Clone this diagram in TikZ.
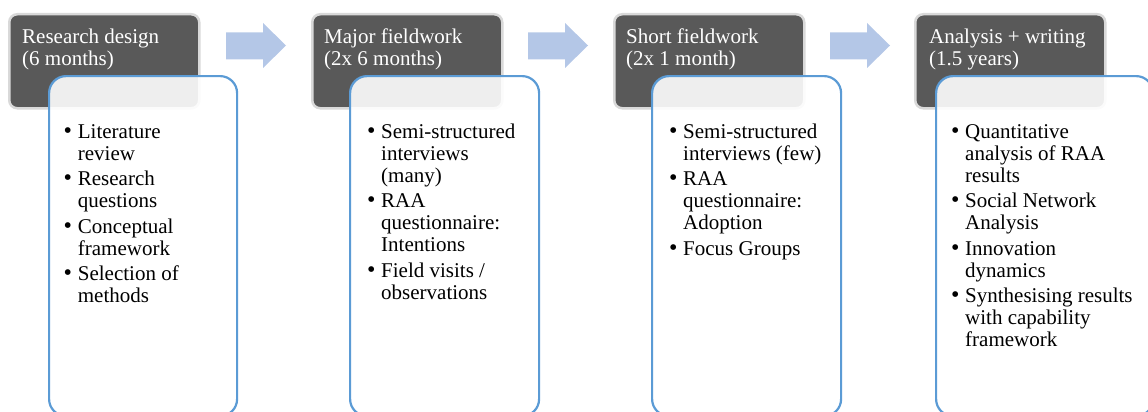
\documentclass[tikz,border=0pt]{standalone}
\usepackage{fontspec}
\setmainfont{Liberation Serif}
\usetikzlibrary{positioning}

\definecolor{headfill}{HTML}{595959}
\definecolor{headline}{HTML}{D9D9D9}
\definecolor{boxline}{HTML}{5B9BD5}
\definecolor{arrowfill}{HTML}{B4C7E7}

\tikzset{
  headbox/.style={draw=headline, line width=2.5pt, fill=headfill,
    rounded corners=8pt, anchor=north west, inner sep=0pt,
    minimum width=190pt, minimum height=94pt},
  bodybox/.style={draw=boxline, line width=2.2pt, fill=white, fill opacity=0.9,
    rounded corners=17pt, anchor=north west, inner sep=0pt,
    minimum height=340pt},
  headtext/.style={anchor=base west, inner sep=0pt, text=white,
    font=\fontsize{21}{22}\selectfont},
  listtext/.style={anchor=base west, inner sep=0pt, text=black,
    font=\fontsize{21}{22}\selectfont},
  flowarrow/.style={fill=arrowfill, draw=none}
}

% two-column list: bullet, then text with a hanging indent
\newenvironment{steplist}{\begin{tabular}[t]{@{}l@{\hspace{5.8pt}}l@{}}}{\end{tabular}}
\newcommand{\itm}{{\fontsize{24}{22}\selectfont\textbullet}}

\begin{document}
\begin{tikzpicture}[x=1pt,y=-1pt]
\useasboundingbox[clip] (0,0) rectangle (1148,412);

% phase headers
\node[headbox] (h1) at (8,13) {};
\node[headbox] (h2) at (311,13) {};
\node[headbox] (h3) at (613,13) {};
\node[headbox] (h4) at (914,13) {};

% arrows between phases
\foreach \ax in {226,528,830}{
  \fill[flowarrow] (\ax,32.5) -- (\ax+37,32.5) -- (\ax+37,23) -- (\ax+60,45.5)
    -- (\ax+37,68) -- (\ax+37,59.5) -- (\ax,59.5) -- cycle;
}

% phase contents
\node[bodybox, minimum width=188pt] (b1) at (48,75) {};
\node[bodybox, minimum width=189pt] (b2) at (349,75) {};
\node[bodybox, minimum width=189pt] (b3) at (651,75) {};
\node[bodybox, minimum width=217pt] (b4) at (935,75) {};

% header texts
\node[headtext] (ht1) at (22,44) {\begin{tabular}[t]{@{}l@{}}Research design\\(6 months)\end{tabular}};
\node[headtext] (ht2) at (324,44) {\begin{tabular}[t]{@{}l@{}}Major fieldwork\\(2x 6 months)\end{tabular}};
\node[headtext] (ht3) at (626,44) {\begin{tabular}[t]{@{}l@{}}Short fieldwork\\(2x 1 month)\end{tabular}};
\node[headtext] (ht4) at (929,44) {\begin{tabular}[t]{@{}l@{}}Analysis + writing\\(1.5 years)\end{tabular}};

% lists
\node[listtext] (l1) at (63.5,138) {\begin{steplist}
\itm & Literature\\ & review\\[3.5pt]
\itm & Research\\ & questions\\[3.5pt]
\itm & Conceptual\\ & framework\\[3.5pt]
\itm & Selection of\\ & methods
\end{steplist}};

\node[listtext] (l2) at (366.8,138) {\begin{steplist}
\itm & Semi-structured\\ & interviews\\ & (many)\\[3.5pt]
\itm & RAA\\ & questionnaire:\\ & Intentions\\[3.5pt]
\itm & Field visits /\\ & observations
\end{steplist}};

\node[listtext] (l3) at (668.8,138) {\begin{steplist}
\itm & Semi-structured\\ & interviews (few)\\[3.5pt]
\itm & RAA\\ & questionnaire:\\ & Adoption\\[3.5pt]
\itm & Focus Groups
\end{steplist}};

\node[listtext] (l4) at (950.8,138) {\begin{steplist}
\itm & Quantitative\\ & analysis of RAA\\ & results\\[3.5pt]
\itm & Social Network\\ & Analysis\\[3.5pt]
\itm & Innovation\\ & dynamics\\[3.5pt]
\itm & Synthesising results\\ & with capability\\ & framework
\end{steplist}};

\end{tikzpicture}
\end{document}
